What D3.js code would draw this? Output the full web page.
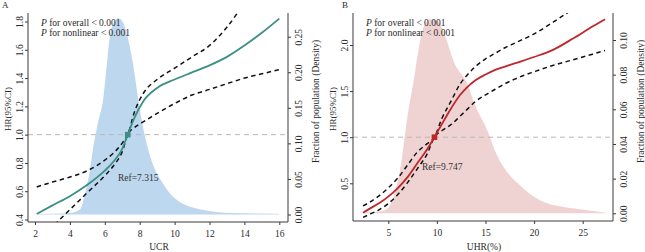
<!DOCTYPE html>
<html><head><meta charset="utf-8">
<script src="https://cdn.jsdelivr.net/npm/d3@7/dist/d3.min.js"></script>
<style>
html,body{margin:0;padding:0;background:#fff;}
svg{display:block;font-family:"Liberation Serif","Times New Roman",serif;}
</style></head>
<body><svg id="c" width="645" height="252"></svg>
<script>
// ---------- Panel A : UCR ----------
const ucrX     = [2.1,3,4,5,6,6.5,7,7.315,7.7,8.2,9,10,11,12,13,14,15,16];
const ucrHR    = [0.44,0.50,0.565,0.645,0.745,0.81,0.90,1.0,1.12,1.235,1.33,1.39,1.44,1.49,1.55,1.63,1.72,1.82];
const ucrUpper = [0.63,0.665,0.70,0.745,0.82,0.87,0.94,1.0,1.16,1.29,1.39,1.47,1.55,1.63,1.76,1.93,2.10,2.27];
const ucrLower = [0.25,0.35,0.47,0.59,0.71,0.78,0.88,1.0,1.05,1.09,1.15,1.22,1.28,1.32,1.36,1.40,1.43,1.46];
const ucrDensX = [2.1,3,4,4.58,4.87,5.15,5.34,5.6,5.91,6.1,6.3,6.55,6.77,7.0,7.25,7.63,7.9,8.15,8.6,9.35,10.1,11.5,13.3,16];
const ucrDens  = [0.001,0.001,0.002,0.007,0.03,0.063,0.095,0.128,0.163,0.207,0.252,0.271,0.276,0.272,0.255,0.21,0.165,0.128,0.082,0.043,0.021,0.007,0.002,0.001];
const ucrRef = 7.315;
const ucrXTicks = [2,4,6,8,10,12,14,16];
const ucrYTicks = [0.4,0.6,0.8,1.0,1.2,1.4,1.6,1.8];
const ucrDTicks = [0,0.05,0.10,0.15,0.20,0.25];

// ---------- Panel B : UHR(%) ----------
const uhrX     = [2.4,3,4,5,6,7,8,9,9.747,10.5,11.5,12.4,13,14,15,16,17,18,20,22,24,26,27.3];
const uhrHR    = [0.18,0.22,0.28,0.355,0.45,0.57,0.72,0.87,1.0,1.14,1.32,1.46,1.53,1.62,1.68,1.73,1.765,1.80,1.87,1.95,2.07,2.20,2.28];
const uhrUpper = [0.255,0.29,0.36,0.45,0.56,0.70,0.84,0.93,1.0,1.20,1.40,1.58,1.66,1.77,1.85,1.91,1.97,2.02,2.12,2.25,2.39,2.53,2.62];
const uhrLower = [0.13,0.16,0.21,0.28,0.38,0.51,0.66,0.82,1.0,1.07,1.14,1.23,1.29,1.39,1.46,1.52,1.58,1.63,1.71,1.78,1.84,1.90,1.94];
const uhrDensX = [2.4,4,4.7,5.2,5.68,6.38,6.82,7.06,7.57,8.1,8.6,9.0,9.29,9.7,10.1,11.0,11.7,13.1,14.1,15.1,16.15,17.5,18.5,19.9,21.3,22.7,24.7,27.5];
const uhrDens  = [0.0005,0.001,0.002,0.005,0.012,0.031,0.05,0.059,0.075,0.094,0.107,0.111,0.112,0.1118,0.111,0.10,0.088,0.075,0.06,0.049,0.034,0.022,0.0165,0.0099,0.006,0.004,0.0023,0.0002];
const uhrRef = 9.747;
const uhrXTicks = [5,10,15,20,25];
const uhrYTicks = [0.5,1.0,1.5,2.0];
const uhrDTicks = [0,0.02,0.04,0.06,0.08,0.10];

const svg = d3.select("#c");
const AX = "#3a3a3a", TXT = "#2a2a2a";

function panel(o){
  const g = svg.append("g");
  const cid = "clip"+o.id;
  g.append("clipPath").attr("id",cid).append("rect")
    .attr("x",o.box[0]).attr("y",o.box[1]).attr("width",o.box[2]-o.box[0]).attr("height",o.box[3]-o.box[1]);
  const pg = g.append("g").attr("clip-path","url(#"+cid+")");

  // density area
  const dd = o.dx.map((v,i)=>[v,o.dy[i]]);
  pg.append("path").datum(dd)
    .attr("d", d3.area().x(d=>o.x(d[0])).y0(o.yd(0)).y1(d=>o.yd(d[1])).curve(d3.curveMonotoneX))
    .attr("fill", o.fill);

  // reference line HR = 1
  pg.append("line").attr("x1",o.box[0]).attr("x2",o.box[2]).attr("y1",o.y(1)).attr("y2",o.y(1))
    .attr("stroke","#b8b8b8").attr("stroke-width",1).attr("stroke-dasharray","5,4");

  const line = d3.line().x(d=>o.x(d[0])).y(d=>o.y(d[1])).curve(d3.curveMonotoneX);
  [o.up,o.lo].forEach(arr=>{
    pg.append("path").datum(o.hx.map((v,i)=>[v,arr[i]])).attr("d",line)
      .attr("fill","none").attr("stroke","#111").attr("stroke-width",1.5).attr("stroke-dasharray","4.5,3.5");
  });
  pg.append("path").datum(o.hx.map((v,i)=>[v,o.hr[i]])).attr("d",line)
    .attr("fill","none").attr("stroke",o.col).attr("stroke-width",1.8);
  pg.append("rect").attr("x",o.x(o.ref)-2.8).attr("y",o.y(1)-2.8).attr("width",5.6).attr("height",5.6).attr("fill",o.col);

  // axes frame (left, bottom, right)
  g.append("path").attr("d",`M${o.box[0]},${o.box[1]}V${o.box[3]}H${o.box[2]}V${o.box[1]}`)
    .attr("fill","none").attr("stroke",AX).attr("stroke-width",1);

  const fs = 9.5;
  // left axis
  const la = g.append("g").attr("transform",`translate(${o.box[0]},0)`)
    .call(d3.axisLeft(o.y).tickValues(o.yt).tickFormat(d3.format(".1f")).tickSize(3));
  la.select(".domain").remove();
  la.selectAll("line").attr("stroke",AX);
  la.selectAll("text").attr("transform","rotate(-90)").attr("x",0).attr("y",-5).attr("dy",0)
    .attr("text-anchor","middle").attr("fill",TXT).style("font-size",fs+"px").style("font-family","Liberation Serif");
  // right axis
  const ra = g.append("g").attr("transform",`translate(${o.box[2]},0)`)
    .call(d3.axisRight(o.yd).tickValues(o.dt).tickFormat(d3.format(".2f")).tickSize(3));
  ra.select(".domain").remove();
  ra.selectAll("line").attr("stroke",AX);
  ra.selectAll("text").attr("transform","rotate(-90)").attr("x",0).attr("y",14).attr("dy",0)
    .attr("text-anchor","middle").attr("fill",TXT).style("font-size",fs+"px").style("font-family","Liberation Serif");
  // bottom axis
  const ba = g.append("g").attr("transform",`translate(0,${o.box[3]})`)
    .call(d3.axisBottom(o.x).tickValues(o.xt).tickFormat(d3.format("d")).tickSize(3));
  ba.select(".domain").remove();
  ba.selectAll("line").attr("stroke",AX);
  ba.selectAll("text").attr("y",14.5).attr("dy",0).attr("fill",TXT)
    .style("font-size",fs+"px").style("font-family","Liberation Serif");

  // titles
  g.append("text").attr("x",(o.box[0]+o.box[2])/2+1).attr("y",249.5).attr("text-anchor","middle")
    .attr("fill",TXT).style("font-size","9.5px").text(o.xlab);
  g.append("text").attr("transform",`translate(${o.box[0]-17.5},${109}) rotate(-90)`).attr("text-anchor","middle")
    .attr("fill",TXT).style("font-size","9px").text("HR(95%CI)");
  g.append("text").attr("transform",`translate(${o.box[2]+30.5},${101.5}) rotate(-90)`).attr("text-anchor","middle")
    .attr("fill",TXT).style("font-size","9.5px").text("Fraction of population (Density)");

  // annotations
  const t1 = g.append("text").attr("x",o.box[0]+13).attr("y",26).attr("fill",TXT).style("font-size","9.5px");
  t1.append("tspan").style("font-style","italic").text("P");
  t1.append("tspan").text(" for overall  < 0.001");
  const t2 = g.append("text").attr("x",o.box[0]+13).attr("y",36).attr("fill",TXT).style("font-size","9.5px");
  t2.append("tspan").style("font-style","italic").text("P");
  t2.append("tspan").text(" for nonlinear  < 0.001");
  g.append("text").attr("x",o.refLab[0]).attr("y",o.refLab[1]).attr("fill","#333").style("font-size","9.5px")
    .text("Ref="+o.ref);
  g.append("text").attr("x",o.letter[0]).attr("y",o.letter[1]).attr("fill",TXT).style("font-size","9px").text(o.id);
}

panel({
  id:"A",
  box:[28,13,288,222],
  x: d3.scaleLinear().domain([2,16]).range([35,279.3]),
  y: d3.scaleLinear().domain([0.4,1.8]).range([219.5,21.5]),
  yd: d3.scaleLinear().domain([0,0.25]).range([214.5,36.7]),
  hx: ucrX, hr: ucrHR, up: ucrUpper, lo: ucrLower,
  dx: ucrDensX, dy: ucrDens, ref: ucrRef,
  xt: ucrXTicks, yt: ucrYTicks, dt: ucrDTicks,
  fill:"#bdd7ee", col:"#3b8f84", xlab:"UCR",
  refLab:[118,181], letter:[2,8]
});
panel({
  id:"B",
  box:[353,13,613,221],
  x: d3.scaleLinear().domain([5,25]).range([388.3,582.7]),
  y: d3.scaleLinear().domain([0.5,2.0]).range([183.3,45]),
  yd: d3.scaleLinear().domain([0,0.10]).range([213.3,40]),
  hx: uhrX, hr: uhrHR, up: uhrUpper, lo: uhrLower,
  dx: uhrDensX, dy: uhrDens, ref: uhrRef,
  xt: uhrXTicks, yt: uhrYTicks, dt: uhrDTicks,
  fill:"#efd3d3", col:"#c0262a", xlab:"UHR(%)",
  refLab:[422,169.5], letter:[342,8]
});
</script></body></html>
